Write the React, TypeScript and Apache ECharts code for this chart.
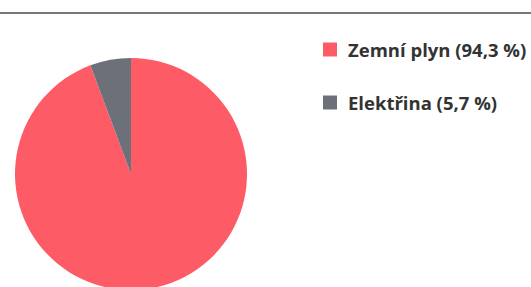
import React, { useEffect, useRef } from "react";
import * as echarts from "echarts";

const categories = ["Zemní plyn", "Elektřina"];
const values = [94.3, 5.7];
const colors = ["#FD5C66", "#6C7078"];

const fmt = (v: number) => v.toFixed(1).replace(".", ",");

export default function App() {
  const ref = useRef<HTMLDivElement>(null);
  useEffect(() => {
    if (!ref.current) return;
    const chart = echarts.init(ref.current, undefined, { renderer: "svg" });
    const labelMap: Record<string, string> = {};
    categories.forEach((c, i) => (labelMap[c] = `${c} (${fmt(values[i])} %)`));
    chart.setOption({
      animation: false,
      backgroundColor: "#ffffff",
      color: colors,
      legend: {
        orient: "vertical",
        left: 318,
        top: 35,
        itemWidth: 14,
        itemHeight: 14,
        itemGap: 34,
        icon: "rect",
        formatter: (n: string) => labelMap[n] ?? n,
        textStyle: {
          fontFamily: "Open Sans",
          fontWeight: "bold",
          fontSize: 18.5,
          lineHeight: 18,
          padding: [0, 0, 0, 6],
          color: "#333333",
        },
        data: categories,
      },
      graphic: [
        {
          type: "line",
          shape: { x1: 0, y1: 13, x2: 531, y2: 13 },
          style: { stroke: "#4a4a4a", lineWidth: 1.5 },
        },
      ],
      series: [
        {
          type: "pie",
          center: [131, 174],
          radius: 116,
          startAngle: 90,
          clockwise: true,
          label: { show: false },
          labelLine: { show: false },
          itemStyle: { borderWidth: 0 },
          data: categories.map((c, i) => ({ name: c, value: values[i] })),
        },
      ],
    });
    return () => chart.dispose();
  }, []);
  return <div ref={ref} style={{ width: 531, height: 287, position: "absolute", left: 0, top: 0 }} />;
}
